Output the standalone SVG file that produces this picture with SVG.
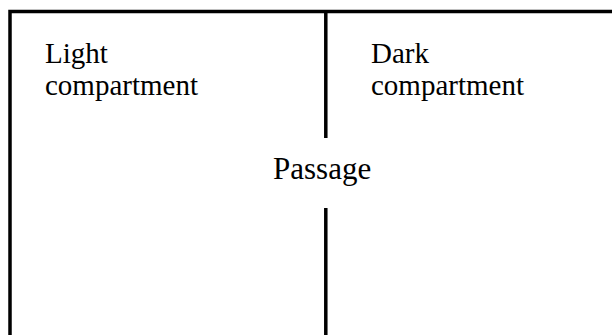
<svg xmlns="http://www.w3.org/2000/svg" width="612" height="335" viewBox="0 0 612 335">
<style>
.wall{stroke:#000;stroke-width:3.5;fill:none}
.lbl{font-family:"Liberation Serif","Times New Roman",serif;font-size:29px;fill:#000}
</style>
<rect width="612" height="335" fill="#fff"/>
<g id="walls">
<path class="wall" d="M10,335 V11.5 H612"/>
<path class="wall" d="M325.8,11.5 V138 M325.8,208 V335"/>
</g>
<g id="light">
<text class="lbl" x="45" y="63">Light</text>
<text class="lbl" x="45" y="95">compartment</text>
</g>
<g id="dark">
<text class="lbl" x="371" y="63">Dark</text>
<text class="lbl" x="371" y="95">compartment</text>
</g>
<g id="passage">
<text class="lbl" x="273" y="179" style="font-size:31px">Passage</text>
</g>
</svg>
